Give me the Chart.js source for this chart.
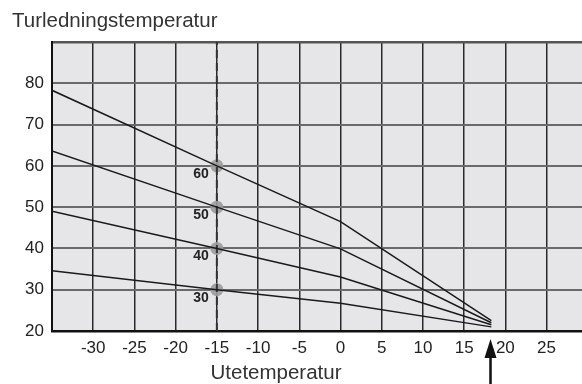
<!DOCTYPE html>
<html><head><meta charset="utf-8">
<script src="https://cdn.jsdelivr.net/npm/chart.js@4.4.0/dist/chart.umd.min.js"></script>
<style>html,body{margin:0;padding:0;background:#fff;}#wrap{width:582px;height:384px;}</style>
</head><body><div id="wrap"><canvas id="c" width="582" height="384"></canvas></div>
<script>
const xValues = [-35, -15, 0, 18.3];
const curve60 = [78.3, 60, 46.5, 22.5];
const curve50 = [63.6, 50, 39.9, 22.0];
const curve40 = [49.0, 40, 33.1, 21.5];
const curve30 = [34.6, 30, 26.7, 21.0];
const markerX = -15;
const markerValues = [60, 50, 40, 30];
const markerLabels = ['60', '50', '40', '30'];
const arrowX = 18.2;
const xTicks = [-35, -30, -25, -20, -15, -10, -5, 0, 5, 10, 15, 20, 25];
const yTicks = [20, 30, 40, 50, 60, 70, 80, 90];
const xMin = -35, xMax = 29.3, yMin = 20, yMax = 90;
const yTitle = 'Turledningstemperatur';
const xTitle = 'Utetemperatur';

const toPts = ys => xValues.map((x, i) => ({x: x, y: ys[i]}));
const curveDs = ys => ({type: 'line', data: toPts(ys), borderColor: '#1a1a1a', borderWidth: 1.5, pointRadius: 0, fill: false, tension: 0, order: 0});

const deco = {
  id: 'deco',
  beforeDraw(chart) {
    const {ctx, chartArea: a} = chart;
    ctx.save();
    ctx.fillStyle = '#e6e6e8';
    ctx.fillRect(a.left, a.top, a.right - a.left, a.bottom - a.top);
    ctx.restore();
  },
  afterDraw(chart) {
    const {ctx} = chart;
    const xs = chart.scales.x, ys = chart.scales.y;
    ctx.save();
    ctx.fillStyle = '#222';
    ctx.font = 'bold 14px "Liberation Sans", Arial, sans-serif';
    ctx.textAlign = 'right';
    ctx.textBaseline = 'middle';
    markerValues.forEach((v, i) => {
      ctx.fillText(markerLabels[i], xs.getPixelForValue(markerX) - 8, ys.getPixelForValue(v) + 8);
    });
    ctx.fillStyle = '#333';
    ctx.font = '20.5px "Liberation Sans", Arial, sans-serif';
    ctx.textAlign = 'left';
    ctx.textBaseline = 'alphabetic';
    ctx.fillText(yTitle, 12, 26.5);
    ctx.textAlign = 'center';
    ctx.fillText(xTitle, 276, 379);
    const ax = xs.getPixelForValue(arrowX);
    ctx.fillStyle = '#111';
    ctx.beginPath();
    ctx.moveTo(ax, 339);
    ctx.lineTo(ax + 6, 358);
    ctx.lineTo(ax - 6, 358);
    ctx.closePath();
    ctx.fill();
    ctx.fillRect(ax - 1.25, 356, 2.5, 30);
    ctx.restore();
  }
};

new Chart(document.getElementById('c'), {
  type: 'scatter',
  data: {
    datasets: [
      curveDs(curve60), curveDs(curve50), curveDs(curve40), curveDs(curve30),
      {type: 'line', data: [{x: markerX, y: yMin}, {x: markerX, y: yMax}], borderColor: '#333', borderWidth: 2, borderDash: [8, 5], pointRadius: 0, order: 5},
      {type: 'scatter', data: markerValues.map(v => ({x: markerX, y: v})), pointRadius: 6.5, pointBackgroundColor: 'rgba(155,155,155,0.9)', pointBorderWidth: 0, order: 10}
    ]
  },
  options: {
    responsive: false,
    animation: false,
    events: [],
    layout: {autoPadding: false, padding: {top: 42, right: 0, left: 0, bottom: 0}},
    plugins: {legend: {display: false}, tooltip: {enabled: false}},
    scales: {
      x: {
        type: 'linear', min: xMin, max: xMax,
        afterBuildTicks: s => { s.ticks = xTicks.map(v => ({value: v})); },
        afterFit: s => { s.height = 53; s.paddingLeft = 0; s.paddingRight = 0; },
        grid: {color: '#2a2a2a', lineWidth: 1.5, drawTicks: false},
        border: {color: '#111', width: 2.5},
        ticks: {padding: 7, color: '#222', font: {family: '"Liberation Sans", Arial, sans-serif', size: 17},
          callback: v => (v === xMin ? '' : String(v)), maxRotation: 0, autoSkip: false}
      },
      y: {
        type: 'linear', min: yMin, max: yMax,
        afterBuildTicks: s => { s.ticks = yTicks.map(v => ({value: v})); },
        afterFit: s => { s.width = 52; s.paddingTop = 0; s.paddingBottom = 0; },
        grid: {color: c => (c.tick && c.tick.value === yMax ? '#555' : '#6a6a6a'), lineWidth: c => (c.tick && c.tick.value === yMax ? 2.5 : 2), drawTicks: false},
        border: {color: '#111', width: 2},
        ticks: {padding: 8, color: '#222', font: {family: '"Liberation Sans", Arial, sans-serif', size: 17},
          callback: v => (v === yMax ? '' : String(v)), autoSkip: false}
      }
    }
  },
  plugins: [deco]
});
</script></body></html>
